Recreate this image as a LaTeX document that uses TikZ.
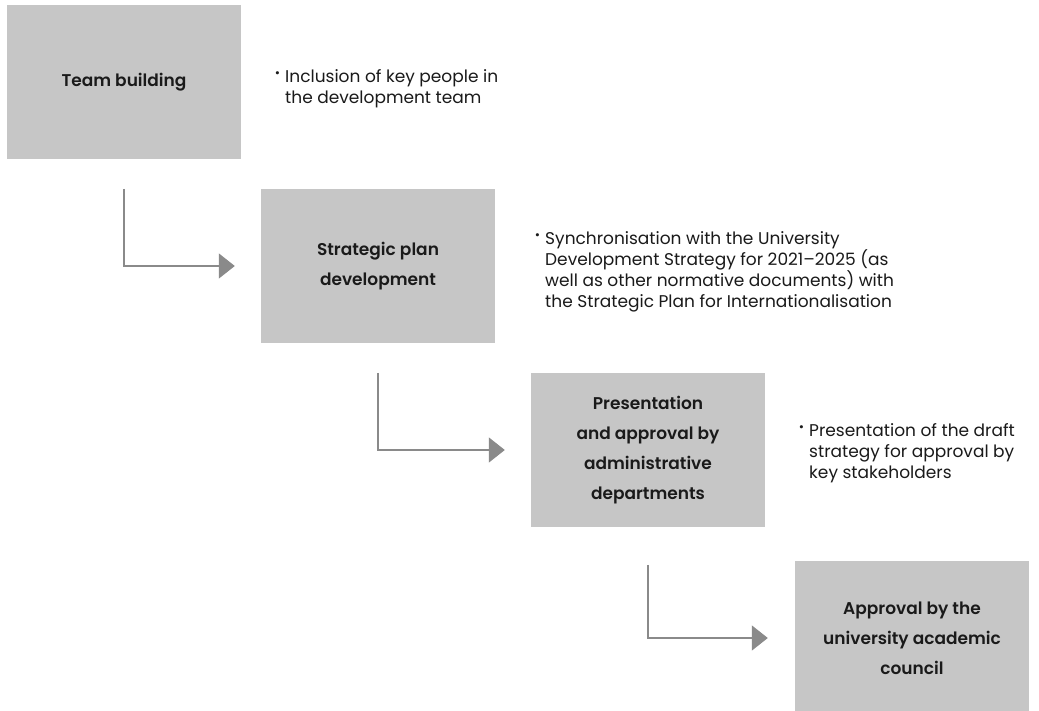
\documentclass[tikz,border=0pt]{standalone}
\usepackage{fontspec}
\usepackage{graphicx}
\setmainfont{Poppins}[BoldFont={Poppins SemiBold}]
\usetikzlibrary{arrows.meta}
\definecolor{boxgray}{HTML}{C6C6C6}
\definecolor{arrowgray}{HTML}{8A8A8A}
\definecolor{ink}{HTML}{1A1A1A}
\newcommand{\bul}{\llap{\raisebox{0.55ex}{\scalebox{0.75}{\textbullet}}\hspace{5pt}}}
\begin{document}
\begin{tikzpicture}[x=1pt,y=-1pt,
  stepbox/.style={fill=boxgray, draw=none, minimum width=234pt, minimum height=154pt,
    inner sep=0pt, align=center, text=ink, font=\fontsize{17}{30}\selectfont\bfseries},
  note/.style={anchor=west, inner sep=0pt, align=left, text=ink,
    font=\fontsize{17}{21}\selectfont},
  conn/.style={draw=arrowgray, line width=1.3pt,
    -{Triangle[length=16pt,width=25pt,fill=arrowgray]}}]
\useasboundingbox (0,0) rectangle (1039,711);
\fill[white] (0,0) rectangle (1039,711);
\node[stepbox] (b1) at (124,82) {Team building};
\node[stepbox] (b2) at (378,266) {Strategic plan\\development};
\node[stepbox] (b3) at (648,450) {Presentation\\and approval by\\administrative\\departments};
\node[stepbox] (b4) at (912,638) {Approval by the\\university academic\\council};
\node[note] (t1) at (285,89) {\bul Inclusion of key people in\\the development team};
\node[note] (t2) at (545,272) {\bul Synchronisation with the University\\Development Strategy for 2021--2025 (as\\well as other normative documents) with\\the Strategic Plan for Internationalisation};
\node[note] (t3) at (809,453) {\bul Presentation of the draft\\strategy for approval by\\key stakeholders};
\draw[conn] (b1.center |- b2.north) -- (b1.center |- b2.center) -- ([xshift=-26pt]b2.west);
\draw[conn] (b2.center |- b3.north) -- (b2.center |- b3.center) -- ([xshift=-26pt]b3.west);
\draw[conn] ([yshift=-4pt]b3.center |- b4.north) -- (b3.center |- b4.center) -- ([xshift=-27pt]b4.west);
\end{tikzpicture}
\end{document}
